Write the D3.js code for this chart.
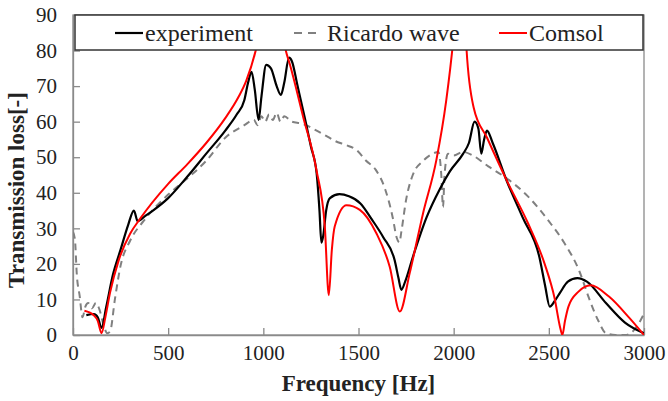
<!DOCTYPE html>
<html>
<head>
<meta charset="utf-8">
<script src="https://cdn.jsdelivr.net/npm/d3@7"></script>
<style>
  body { margin: 0; background: #fff; }
  svg { display: block; }
</style>
</head>
<body>
<div id="chart-area"></div>
<script>
// frequency [Hz], transmission loss [-]
let experiment = [
  [70, 5.6], [110, 5.9], [130, 5], [150, 2], [175, 8], [210, 17], [250, 24], [290, 31],
  [320, 35], [340, 32], [380, 33.5], [420, 35], [500, 38.5], [600, 44.5], [700, 51],
  [800, 57.5], [860, 62], [900, 66], [920, 71], [938, 74], [955, 69], [975, 60.5],
  [990, 67], [1015, 76], [1040, 75], [1070, 70], [1092, 67.5], [1110, 71], [1135, 78],
  [1150, 77], [1180, 70], [1218, 61], [1250, 53], [1280, 45.5], [1295, 35], [1305, 26],
  [1315, 28], [1330, 35], [1350, 38.5], [1400, 39.6], [1450, 39], [1510, 37], [1570, 32.5],
  [1630, 27.5], [1690, 21], [1710, 16], [1725, 12.7], [1745, 15], [1786, 22], [1857, 33],
  [1927, 41], [1980, 46], [2050, 51], [2080, 54], [2110, 60], [2130, 58], [2145, 51],
  [2160, 55], [2175, 57.5], [2205, 54], [2277, 43.6], [2363, 33], [2450, 22], [2480, 14],
  [2505, 8], [2530, 9.5], [2560, 12], [2600, 15], [2650, 16], [2700, 15], [2800, 9],
  [2900, 3.5], [3000, 0.5]
]

let ricardo = [
  [0, 29], [10, 27], [20, 17], [35, 11], [50, 5], [65, 8], [80, 9], [100, 7.5], [120, 9],
  [140, 7], [160, 3], [180, 0.5], [195, 1], [220, 10], [250, 19.5], [300, 26.5], [370, 32],
  [500, 39.5], [600, 44], [700, 49], [800, 55.5], [900, 59], [950, 60.5], [970, 59],
  [990, 61.5], [1010, 60], [1030, 62], [1050, 60.5], [1070, 62.5], [1090, 60], [1110, 61.5],
  [1150, 60], [1200, 59.5], [1280, 57.5], [1330, 56], [1380, 54.5], [1430, 53.5], [1490, 52],
  [1540, 49], [1590, 46.5], [1640, 41], [1680, 33], [1700, 27.5], [1715, 26], [1725, 29],
  [1750, 38], [1785, 45], [1840, 49], [1890, 51], [1920, 51.5], [1935, 45], [1944, 36],
  [1952, 45], [1970, 51], [2000, 50.5], [2050, 51.5], [2100, 50.5], [2180, 47.5], [2280, 44],
  [2390, 39], [2500, 32], [2580, 26], [2660, 18], [2710, 10.5], [2760, 4], [2800, 0.5],
  [2850, 0], [2900, 0], [2950, 1.5], [3000, 6]
]

let comsol = [
  [60, 6.8], [110, 5.5], [130, 4], [150, 0.5], [170, 5], [195, 12], [240, 21], [300, 28.5],
  [350, 32.5], [500, 42.5], [600, 48], [700, 54], [800, 61], [870, 67], [910, 71.5],
  [960, 80], [1000, 90], [1020, 102], [1045, 115], [1065, 102], [1085, 90], [1118, 80],
  [1140, 76], [1209, 61.4], [1279, 46.4], [1323, 30.5], [1344, 11.2], [1360, 24], [1375, 30.5],
  [1437, 36.5], [1507, 35.2], [1594, 28.6], [1664, 19.2], [1717, 6.6], [1769, 17.4],
  [1839, 34.2], [1909, 49.2], [1961, 66], [1998, 83], [2010, 90], [2035, 112], [2058, 90],
  [2068, 80], [2105, 64], [2176, 55.4], [2283, 43], [2390, 31.5], [2478, 20], [2530, 10.4],
  [2560, 2], [2571, 0], [2585, 4], [2603, 8], [2656, 12.2], [2720, 14], [2816, 10.8],
  [2923, 4.8], [3000, 0]
]

let xTicks = [0, 500, 1000, 1500, 2000, 2500, 3000]
let yTicks = [0, 10, 20, 30, 40, 50, 60, 70, 80, 90]
let legendNames = ['experiment', 'Ricardo wave', 'Comsol']

let serif = "'Liberation Serif', 'Times New Roman', serif"

let margin = { top: 15, right: 24, bottom: 66, left: 73 }
let width = 668 - margin.left - margin.right
let height = 401 - margin.top - margin.bottom

let svg = d3.select('#chart-area').append('svg')
  .attr('width', 668)
  .attr('height', 401)

let g = svg.append('g')
  .attr('transform', 'translate(' + margin.left + ', ' + margin.top + ')')

let x = d3.scaleLinear().domain([0, 3000]).range([0, width])
let y = d3.scaleLinear().domain([0, 90]).range([height, 0])

svg.append('defs').append('clipPath').attr('id', 'plot-clip')
  .append('rect').attr('width', width).attr('height', height)

// frame
g.append('rect')
  .attr('width', width).attr('height', height)
  .attr('fill', 'none').attr('stroke', '#8a8a8a').attr('stroke-width', 1.3)

let xAxis = g.append('g')
  .attr('transform', 'translate(0, ' + height + ')')
  .call(d3.axisBottom(x).tickValues(xTicks).tickFormat(d3.format('d'))
    .tickSizeInner(-7).tickSizeOuter(0).tickPadding(10))
let yAxis = g.append('g')
  .call(d3.axisLeft(y).tickValues(yTicks).tickFormat(d3.format('d'))
    .tickSizeInner(-7).tickSizeOuter(0).tickPadding(16))
;[xAxis, yAxis].forEach(a => {
  a.attr('font-family', serif).attr('font-size', 21)
  a.select('.domain').attr('stroke', '#8a8a8a').attr('stroke-width', 1.3)
  a.selectAll('.tick line').attr('stroke', '#8a8a8a').attr('stroke-width', 1.3)
  a.selectAll('.tick text')
    .attr('font-family', serif).attr('font-size', 21)
    .style('font-family', serif).style('font-size', '21px').attr('fill', '#222')
})

let line = d3.line()
  .x(d => x(d[0]))
  .y(d => y(d[1]))
  .curve(d3.curveMonotoneX)

let plot = g.append('g').attr('clip-path', 'url(#plot-clip)')

plot.append('path').datum(ricardo)
  .attr('d', line).attr('fill', 'none')
  .attr('stroke', '#808080').attr('stroke-width', 2).attr('stroke-dasharray', '7,5')
plot.append('path').datum(experiment)
  .attr('d', line).attr('fill', 'none')
  .attr('stroke', '#000').attr('stroke-width', 2.2)
plot.append('path').datum(comsol)
  .attr('d', line).attr('fill', 'none')
  .attr('stroke', '#ff0000').attr('stroke-width', 2)

// legend
let legend = g.append('g')
legend.append('rect')
  .attr('x', 2).attr('y', 0).attr('width', width - 3).attr('height', 35)
  .attr('fill', '#fff').attr('stroke', '#333').attr('stroke-width', 1.5)

let legendItems = [
  { x: 42, color: '#000', dash: null, w: 2.2 },
  { x: 221, color: '#808080', dash: '8,6', w: 2 },
  { x: 426, color: '#ff0000', dash: null, w: 2 }
]
legendItems.forEach((item, i) => {
  legend.append('line')
    .attr('x1', item.x).attr('x2', item.x + 28)
    .attr('y1', 18).attr('y2', 18)
    .attr('stroke', item.color).attr('stroke-width', item.w)
    .attr('stroke-dasharray', item.dash)
  legend.append('text')
    .attr('x', item.x + (item.dash ? 33 : 30)).attr('y', 26)
    .style('font-family', serif)
    .style('font-size', '24px').attr('fill', '#222')
    .text(legendNames[i])
})

// axis titles
svg.append('text')
  .attr('x', margin.left + width / 2).attr('y', 391)
  .attr('text-anchor', 'middle')
  .style('font-family', serif)
  .style('font-size', '23px').style('font-weight', 'bold').attr('fill', '#222')
  .text('Frequency [Hz]')

svg.append('text')
  .attr('transform', 'translate(24, 190) rotate(-90)')
  .attr('text-anchor', 'middle')
  .style('font-family', serif)
  .style('font-size', '23px').style('font-weight', 'bold').attr('fill', '#222')
  .text('Transmission loss[-]')
</script>
</body>
</html>
